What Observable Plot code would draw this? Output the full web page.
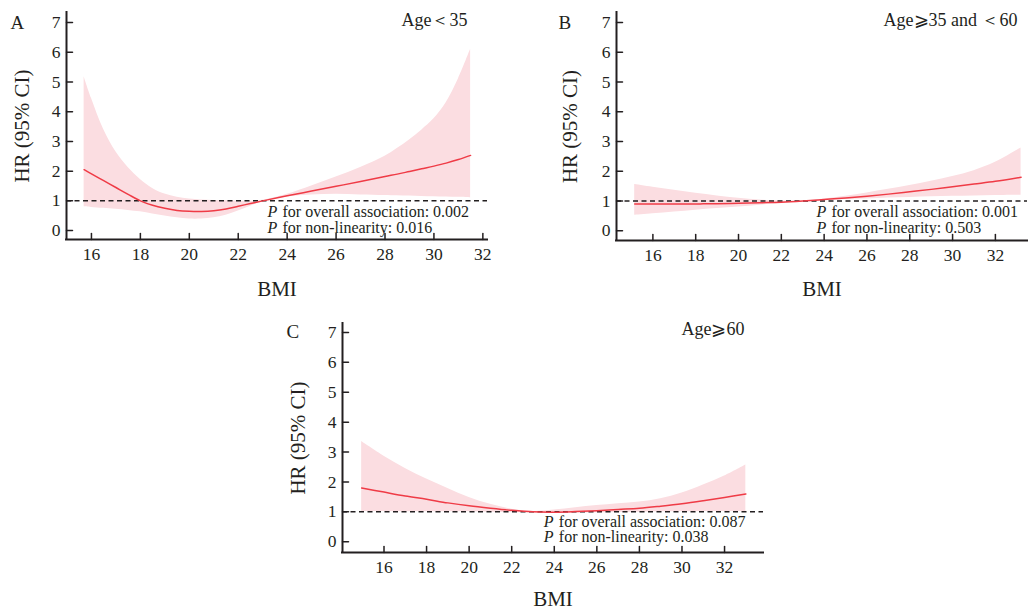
<!DOCTYPE html>
<html><head><meta charset="utf-8">
<script src="https://cdn.jsdelivr.net/npm/d3@7"></script>
<script src="https://cdn.jsdelivr.net/npm/@observablehq/plot@0.6"></script>
<style>
body{margin:0;background:#fff;}
#wrap{position:relative;width:1028px;height:610px;overflow:hidden;background:#fff;}
.panel{position:absolute;}
</style></head><body><div id="wrap"></div>
<script>
// ---- data ----
const bmiA = [15.7, 16, 16.5, 17, 17.5, 18, 18.5, 19, 19.5, 20, 20.5, 21, 21.5, 22, 22.5, 23, 24, 25, 26, 27, 28, 28.5, 29, 29.5, 30, 30.5, 31, 31.5];
const hrA  = [2.05, 1.91, 1.68, 1.45, 1.22, 1.0, 0.85, 0.75, 0.68, 0.65, 0.645, 0.67, 0.73, 0.82, 0.91, 1.0, 1.17, 1.33, 1.49, 1.65, 1.82, 1.9, 1.99, 2.08, 2.17, 2.27, 2.39, 2.53];
const loA  = [0.8, 0.78, 0.75, 0.72, 0.68, 0.63, 0.56, 0.49, 0.43, 0.39, 0.39, 0.43, 0.52, 0.66, 0.82, 0.98, 1.13, 1.2, 1.22, 1.2, 1.18, 1.17, 1.16, 1.15, 1.14, 1.13, 1.12, 1.1];
const upA  = [5.18, 4.45, 3.4, 2.65, 2.12, 1.72, 1.42, 1.23, 1.12, 1.06, 1.03, 1.01, 1.0, 0.99, 0.99, 1.02, 1.22, 1.5, 1.8, 2.12, 2.5, 2.76, 3.05, 3.38, 3.76, 4.3, 5.1, 6.1];

const bmiB = [15.15, 16, 17, 18, 19, 20, 21, 22, 23, 24, 25, 26, 27, 28, 29, 30, 31, 32, 33.2];
const hrB  = [0.9, 0.9, 0.9, 0.9, 0.91, 0.92, 0.94, 0.96, 1.0, 1.05, 1.1, 1.16, 1.23, 1.31, 1.39, 1.48, 1.57, 1.66, 1.8];
const loB  = [0.52, 0.57, 0.63, 0.69, 0.75, 0.8, 0.86, 0.92, 0.99, 1.02, 1.05, 1.07, 1.1, 1.12, 1.14, 1.16, 1.17, 1.18, 1.19];
const upB  = [1.55, 1.46, 1.36, 1.26, 1.17, 1.09, 1.03, 1.0, 1.0, 1.07, 1.16, 1.27, 1.39, 1.52, 1.66, 1.82, 2.02, 2.3, 2.78];

const bmiC = [14.95, 16, 17, 18, 19, 20, 21, 22, 23, 24, 25, 26, 27, 28, 29, 30, 31, 32, 33];
const hrC  = [1.8, 1.66, 1.53, 1.42, 1.3, 1.2, 1.12, 1.05, 1.0, 0.99, 1.01, 1.04, 1.08, 1.12, 1.19, 1.27, 1.37, 1.48, 1.6];
const loC  = [1.01, 1.01, 1.0, 1.0, 1.0, 1.0, 0.99, 0.98, 0.97, 0.96, 0.96, 0.97, 0.98, 0.99, 1.0, 1.0, 1.01, 1.01, 1.01];
const upC  = [3.35, 2.86, 2.45, 2.1, 1.78, 1.48, 1.25, 1.09, 1.01, 1.06, 1.14, 1.21, 1.27, 1.33, 1.44, 1.63, 1.9, 2.2, 2.57];

const xTicks = [16, 18, 20, 22, 24, 26, 28, 30, 32];
const yTicks = [0, 1, 2, 3, 4, 5, 6, 7];
const refHR = [1];
const panelLetters = ["A", "B", "C"];
const ageLabels = ["Age＜35", "Age⩾35 and ＜60", "Age⩾60"];
const pOverall = ["0.002", "0.001", "0.087"];
const pNonlin = ["0.016", "0.503", "0.038"];
const xLabel = "BMI";
const yLabel = "HR (95% CI)";

// ---- layout ----
const layouts = [
  {left: 0, top: 0, width: 500, height: 300, mL: 66, mR: 13, mT: 12, mB: 61, xd: [14.98, 32.19], yd: [-0.30, 7.34],
   letter: [-56, 16], age: [-20, 13], ann: [201, 204.7, 220.3], ylab: -44, xlab: 56},
  {left: 520, top: 0, width: 508, height: 300, mL: 96, mR: 1, mT: 12, mB: 60, xd: [14.30, 33.50], yd: [-0.33, 7.34],
   letter: [-58, 16.3], age: [-10, 13], ann: [200, 204.7, 220.3], ylab: -46, xlab: 55},
  {left: 270, top: 310, width: 500, height: 300, mL: 72, mR: 7, mT: 13, mB: 58, xd: [14.05, 33.83], yd: [-0.36, 7.30],
   letter: [-56, 14.3], age: [-19, 11], ann: [201.3, 203, 218.7], ylab: -44.5, xlab: 53}
];
const series = [[bmiA, hrA, loA, upA], [bmiB, hrB, loB, upB], [bmiC, hrC, loC, upC]];

const ink = "#231f20";
const lineColor = "#ef3b46";
const bandColor = "#fbdde1";
const tickShape = {draw(ctx, l) { ctx.moveTo(0, 0); ctx.lineTo(0, -l); }};

const wrap = document.getElementById("wrap");
layouts.forEach((L, k) => {
  const [bmi, hr, lo, up] = series[k];
  const rows = bmi.map((b, i) => ({bmi: b, hr: hr[i], lo: lo[i], hi: up[i]}));
  const txt = (s, o) => Plot.text([s], {text: d => d, lineAnchor: "bottom", ...o});
  const chart = Plot.plot({
    width: L.width, height: L.height,
    marginLeft: L.mL, marginRight: L.mR, marginTop: L.mT, marginBottom: L.mB,
    style: {fontFamily: "'Liberation Serif', 'Times New Roman', serif", fontSize: "17.5px", color: ink, background: "transparent", overflow: "visible"},
    x: {domain: L.xd, label: null},
    y: {domain: L.yd, label: null},
    marks: [
      Plot.areaY(rows, {x: "bmi", y1: "lo", y2: "hi", fill: bandColor, curve: "catmull-rom"}),
      Plot.ruleY(refHR, {stroke: ink, strokeDasharray: "5,3.5", strokeWidth: 1.5}),
      Plot.lineY(rows, {x: "bmi", y: "hr", stroke: lineColor, strokeWidth: 1.5, curve: "catmull-rom"}),
      Plot.ruleX([L.xd[0]], {stroke: ink, strokeWidth: 2, strokeLinecap: "square"}),
      Plot.ruleY([L.yd[0]], {stroke: ink, strokeWidth: 2, strokeLinecap: "square"}),
      Plot.vector(xTicks, {x: d => d, frameAnchor: "bottom", length: 6, rotate: 0, anchor: "start", shape: tickShape, stroke: ink, strokeWidth: 1.5}),
      Plot.vector(yTicks, {y: d => d, frameAnchor: "left", length: 6, rotate: 90, anchor: "start", shape: tickShape, stroke: ink, strokeWidth: 1.5}),
      Plot.axisX(xTicks, {tickSize: 0, tickPadding: 8, label: null}),
      Plot.axisY(yTicks, {tickSize: 0, tickPadding: 6, label: null}),
      txt(panelLetters[k], {frameAnchor: "top-left", dx: L.letter[0], dy: L.letter[1], textAnchor: "start", fontSize: 19}),
      txt(ageLabels[k], {frameAnchor: "top-right", dx: L.age[0], dy: L.age[1], textAnchor: "end", fontSize: 18}),
      txt("P", {frameAnchor: "top-left", dx: L.ann[0], dy: L.ann[1], textAnchor: "start", fontSize: 16, fontStyle: "italic"}),
      txt("P", {frameAnchor: "top-left", dx: L.ann[0], dy: L.ann[2], textAnchor: "start", fontSize: 16, fontStyle: "italic"}),
      txt("for overall association: " + pOverall[k], {frameAnchor: "top-left", dx: L.ann[0] + 15, dy: L.ann[1], textAnchor: "start", fontSize: 16}),
      txt("for non-linearity: " + pNonlin[k], {frameAnchor: "top-left", dx: L.ann[0] + 15, dy: L.ann[2], textAnchor: "start", fontSize: 16}),
      Plot.text([yLabel], {text: d => d, frameAnchor: "left", dx: L.ylab, rotate: -90, textAnchor: "middle", lineAnchor: "middle", fontSize: 21}),
      txt(xLabel, {frameAnchor: "bottom", dy: L.xlab, textAnchor: "middle", fontSize: 21})
    ]
  });
  const div = document.createElement("div");
  div.className = "panel";
  div.style.left = L.left + "px";
  div.style.top = L.top + "px";
  div.appendChild(chart);
  wrap.appendChild(div);
});
</script>
</body></html>
